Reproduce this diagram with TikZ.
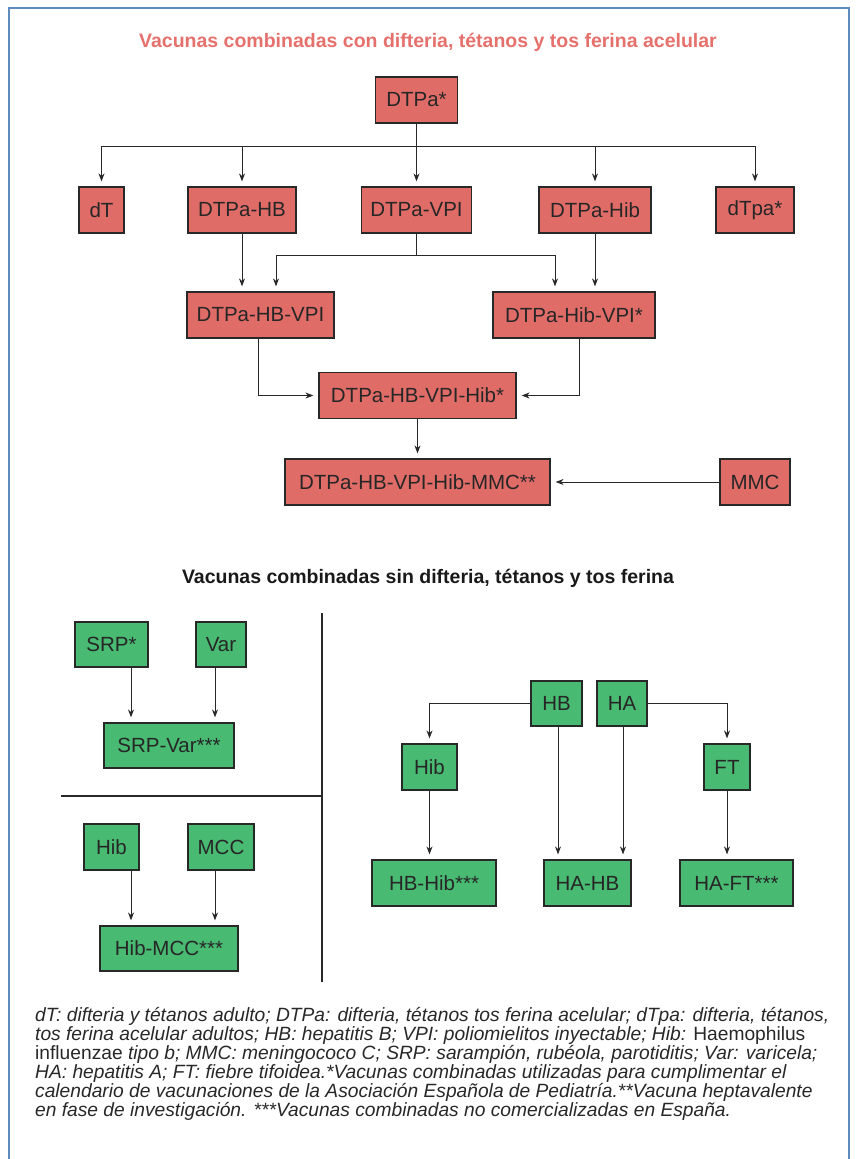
\documentclass[tikz,border=0pt]{standalone}
\usepackage{fontspec}
\setmainfont{Liberation Sans}
\usetikzlibrary{arrows.meta, positioning}

\definecolor{vacred}{RGB}{224,108,104}
\definecolor{vacgreen}{RGB}{72,186,114}
\definecolor{titlered}{RGB}{229,112,108}
\definecolor{frameblue}{RGB}{92,140,190}
\definecolor{inkgray}{RGB}{40,40,40}

\begin{document}
\begin{tikzpicture}[x=1pt, y=-1pt,
    redbox/.style={rectangle, draw=inkgray, line width=1.2pt, fill=vacred, minimum height=46pt, inner sep=0pt, text=black!85, font=\fontsize{20.5}{24}\selectfont},
    greenbox/.style={redbox, fill=vacgreen},
    arrow/.style={-{Stealth[length=8pt,width=6pt]}, draw=inkgray, line width=0.9pt, shorten >=5pt},
    heading/.style={font=\bfseries\fontsize{19.5}{23}\selectfont}]
    \useasboundingbox (0,0) rectangle (856,1159);
    \draw [frameblue, line width=1.5pt] (9,1160) -- (9,8) -- (849,8) -- (849,1160);

    % con difteria, tetanos y tos ferina
    \node (title1) [heading, text=titlered] at (428,42) {Vacunas combinadas con difteria, tétanos y tos ferina acelular};
    \node (dtpa) [redbox, minimum width=82pt] at (416.5,100) {DTPa*};
    \node (dT) [redbox, minimum width=45pt] at (101.5,210) {dT};
    \node (dtpahb) [redbox, minimum width=108pt] at (242,210) {DTPa-HB};
    \node (dtpavpi) [redbox, minimum width=110pt] at (416.5,210) {DTPa-VPI};
    \node (dtpahib) [redbox, minimum width=112pt] at (595,210) {DTPa-Hib};
    \node (dtpaadult) [redbox, minimum width=78pt] at (755,210) {dTpa*};
    \node (hbvpi) [redbox, minimum width=147pt] at (260.5,315) {DTPa-HB-VPI};
    \node (hibvpi) [redbox, minimum width=162pt] at (574,315) {DTPa-Hib-VPI*};
    \node (hexa) [redbox, minimum width=197pt] at (417.5,395.5) {DTPa-HB-VPI-Hib*};
    \node (hepta) [redbox, minimum width=265pt] at (417.5,482) {DTPa-HB-VPI-Hib-MMC**};
    \node (mmc) [redbox, minimum width=70pt] at (755,482) {MMC};

    \draw [arrow] (dtpa.south) -- ++(0,23) -| (dT);
    \draw [arrow] (dtpa.south) -- ++(0,23) -| (dtpahb);
    \draw [arrow] (dtpa) -- (dtpavpi);
    \draw [arrow] (dtpa.south) -- ++(0,23) -| (dtpahib);
    \draw [arrow] (dtpa.south) -- ++(0,23) -| (dtpaadult);
    \draw [arrow] (dtpahb) -- (dtpahb |- hbvpi.north);
    \draw [arrow] (dtpahib) -- (dtpahib |- hibvpi.north);
    \draw [arrow] (dtpavpi.south) -- ++(0,22) -| ([xshift=15.5pt]hbvpi.north);
    \draw [arrow] (dtpavpi.south) -- ++(0,22) -| ([xshift=-19pt]hibvpi.north);
    \draw [arrow] ([xshift=-2.5pt]hbvpi.south) |- (hexa);
    \draw [arrow] ([xshift=5pt]hibvpi.south) |- (hexa);
    \draw [arrow] (hexa) -- (hepta);
    \draw [arrow] (mmc) -- (hepta);

    % sin difteria, tetanos y tos ferina
    \node (title2) [heading, text=black!90] at (428,578) {Vacunas combinadas sin difteria, tétanos y tos ferina};
    \draw [inkgray, line width=1.2pt] (322,613) -- (322,982);
    \draw [inkgray, line width=1.2pt] (61,796) -- (322,796);

    \node (srp) [greenbox, minimum width=73pt, minimum height=45pt] at (111.5,644.5) {SRP*};
    \node (var) [greenbox, minimum width=50pt, minimum height=45pt] at (221,644.5) {Var};
    \node (srpvar) [greenbox, minimum width=130pt, minimum height=45pt] at (169,745.5) {SRP-Var***};
    \draw [arrow] ([xshift=19.5pt]srp.south) -- ([xshift=19.5pt]srp.south |- srpvar.north);
    \draw [arrow] ([xshift=-6pt]var.south) -- ([xshift=-6pt]var.south |- srpvar.north);

    \node (hibleft) [greenbox, minimum width=55pt] at (111.5,847) {Hib};
    \node (mcc) [greenbox, minimum width=66pt] at (221,847) {MCC};
    \node (hibmcc) [greenbox, minimum width=138pt, minimum height=45pt] at (169,948.5) {Hib-MCC***};
    \draw [arrow] ([xshift=19.5pt]hibleft.south) -- ([xshift=19.5pt]hibleft.south |- hibmcc.north);
    \draw [arrow] ([xshift=-6pt]mcc.south) -- ([xshift=-6pt]mcc.south |- hibmcc.north);

    \node (hb) [greenbox, minimum width=51pt, minimum height=45pt] at (556.5,703.5) {HB};
    \node (ha) [greenbox, minimum width=50pt, minimum height=45pt] at (622,703.5) {HA};
    \node (hibright) [greenbox, minimum width=55pt] at (429.5,767) {Hib};
    \node (ft) [greenbox, minimum width=46pt] at (727,767) {FT};
    \node (hbhib) [greenbox, minimum width=124pt] at (434,883) {HB-Hib***};
    \node (hahb) [greenbox, minimum width=87pt] at (587.5,883) {HA-HB};
    \node (haft) [greenbox, minimum width=113pt] at (736.5,883) {HA-FT***};

    \draw [arrow] (hb) -| (hibright);
    \draw [arrow] (ha) -| (ft);
    \draw [arrow] ([xshift=1.5pt]hb.south) -- ([xshift=1.5pt]hb.south |- hahb.north);
    \draw [arrow] ([xshift=1pt]ha.south) -- ([xshift=1pt]ha.south |- hahb.north);
    \draw [arrow] (hibright) -- (hibright |- hbhib.north);
    \draw [arrow] (ft) -- (ft |- haft.north);

    % notas
    \node (notes) [anchor=north west, align=left, inner sep=0pt, text=inkgray, font=\itshape\fontsize{19.2}{19}\selectfont] at (35,1007) {dT: difteria y tétanos adulto; DTPa: difteria, tétanos tos ferina acelular; dTpa: difteria, tétanos,\\
    tos ferina acelular adultos; HB: hepatitis B; VPI: poliomielitos inyectable; Hib: {\upshape Haemophilus}\\
    {\upshape influenzae} tipo b; MMC: meningococo C; SRP: sarampión, rubéola, parotiditis; Var: varicela;\\
    HA: hepatitis A; FT: fiebre tifoidea.*Vacunas combinadas utilizadas para cumplimentar el\\
    calendario de vacunaciones de la Asociación Española de Pediatría.**Vacuna heptavalente\\
    en fase de investigación. ***Vacunas combinadas no comercializadas en España.};
\end{tikzpicture}
\end{document}
